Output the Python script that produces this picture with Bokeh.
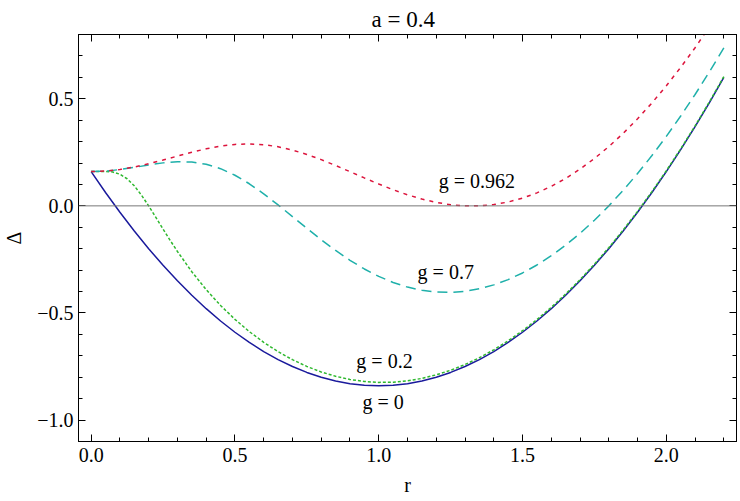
from bokeh.plotting import figure
from bokeh.models import Range1d, LinearAxis, FixedTicker, Span, Label
from bokeh.embed import file_html
from bokeh.resources import INLINE

# ---- data ----
r_grid = [0.0, 0.05, 0.1, 0.15, 0.2, 0.25, 0.3, 0.35, 0.4, 0.45, 0.5, 0.55, 0.6, 0.65,
          0.7, 0.75, 0.8, 0.85, 0.9, 0.95, 1.0, 1.05, 1.1, 1.15, 1.2, 1.25, 1.3, 1.35,
          1.4, 1.45, 1.5, 1.55, 1.6, 1.65, 1.7, 1.75, 1.8, 1.85, 1.9, 1.95, 2.0, 2.05,
          2.1, 2.15, 2.2]

delta_g0 = [0.16, 0.0625, -0.03, -0.1175, -0.2, -0.2775, -0.35, -0.4175, -0.48, -0.5375,
            -0.59, -0.6375, -0.68, -0.7175, -0.75, -0.7775, -0.8, -0.8175, -0.83, -0.8375,
            -0.84, -0.8375, -0.83, -0.8175, -0.8, -0.7775, -0.75, -0.7175, -0.68, -0.6375,
            -0.59, -0.5375, -0.48, -0.4175, -0.35, -0.2775, -0.2, -0.1175, -0.03, 0.0625,
            0.16, 0.2625, 0.37, 0.4825, 0.6]

r_g02 = [0.0, 0.025, 0.05, 0.075, 0.1, 0.125, 0.15, 0.175, 0.2, 0.225, 0.25, 0.275, 0.3,
         0.35, 0.4, 0.45, 0.5, 0.55, 0.6, 0.65, 0.7, 0.75, 0.8, 0.85, 0.9, 0.95, 1.0,
         1.05, 1.1, 1.15, 1.2, 1.25, 1.3, 1.35, 1.4, 1.45, 1.5, 1.55, 1.6, 1.65, 1.7,
         1.75, 1.8, 1.85, 1.9, 1.95, 2.0, 2.05, 2.1, 2.15, 2.2]
delta_g02 = [0.16, 0.1605, 0.161, 0.1581, 0.1478, 0.1266, 0.0935, 0.0502, 0.0, -0.0537,
             -0.1082, -0.1616, -0.2129, -0.3074, -0.3911, -0.4649, -0.5298, -0.587, -0.6371,
             -0.6807, -0.7181, -0.7496, -0.7754, -0.7956, -0.8105, -0.8199, -0.8241, -0.8231,
             -0.8169, -0.8055, -0.7889, -0.7673, -0.7406, -0.7087, -0.6719, -0.6299, -0.5829,
             -0.5309, -0.4738, -0.4116, -0.3445, -0.2723, -0.1951, -0.1128, -0.0256, 0.0667,
             0.164, 0.2663, 0.3736, 0.486, 0.6033]

delta_g07 = [0.16, 0.1625, 0.1694, 0.1796, 0.1909, 0.2007, 0.2062, 0.2047, 0.1942, 0.1736,
             0.1429, 0.1032, 0.0563, 0.0045, -0.05, -0.1048, -0.1581, -0.2083, -0.2541,
             -0.2946, -0.3292, -0.3575, -0.3792, -0.3942, -0.4025, -0.404, -0.3989, -0.3871,
             -0.3689, -0.3442, -0.3132, -0.276, -0.2327, -0.1834, -0.1281, -0.067, 0.0,
             0.0726, 0.151, 0.2349, 0.3244, 0.4195, 0.52, 0.626, 0.7373]

delta_g0962 = [0.16, 0.1625, 0.1698, 0.1814, 0.1964, 0.2139, 0.2323, 0.2503, 0.2663, 0.2789,
               0.2869, 0.2893, 0.2857, 0.276, 0.2606, 0.2402, 0.2158, 0.1885, 0.1596, 0.1304,
               0.102, 0.0754, 0.0518, 0.0317, 0.0161, 0.0053, 0.0, 0.0, 0.0059, 0.018,
               0.0362, 0.0606, 0.0913, 0.1283, 0.1716, 0.2211, 0.2768, 0.3386, 0.4066, 0.4806,
               0.5606, 0.6465, 0.7383, 0.836, 0.9396]

x_major = [0.0, 0.5, 1.0, 1.5, 2.0]
x_labels = ["0.0", "0.5", "1.0", "1.5", "2.0"]
x_minor = [0.1, 0.2, 0.3, 0.4, 0.6, 0.7, 0.8, 0.9, 1.1, 1.2, 1.3, 1.4, 1.6, 1.7, 1.8, 1.9, 2.1, 2.2]
y_major = [-1.0, -0.5, 0.0, 0.5]
y_labels = ["\u22121.0", "\u22120.5", "0.0", "0.5"]
y_minor = [-1.1, -0.9, -0.8, -0.7, -0.6, -0.4, -0.3, -0.2, -0.1, 0.1, 0.2, 0.3, 0.4, 0.6, 0.7, 0.8]

title_text = "a = 0.4"
curve_labels = ["g = 0.962", "g = 0.7", "g = 0.2", "g = 0"]

FONT = "Liberation Serif"

p = figure(width=740, height=501, output_backend="svg", toolbar_location=None,
           x_range=Range1d(-0.044, 2.244), y_range=Range1d(-1.1, 0.8),
           min_border_left=77, min_border_right=4, min_border_top=34, min_border_bottom=60,
           title=title_text)
p.title.align = "left"
p.title.offset = 293
p.title.text_font = FONT
p.title.text_font_size = "23px"
p.title.text_font_style = "normal"
p.title.text_color = "black"
p.title.standoff = 6
p.grid.visible = False
p.outline_line_color = "black"
p.outline_line_width = 1
p.background_fill_color = "white"
p.border_fill_color = "white"

def style_axis(ax, ticks, minor, labels, show_labels):
    ax.ticker = FixedTicker(ticks=ticks, minor_ticks=minor)
    ax.major_tick_in = 7
    ax.major_tick_out = 0
    ax.minor_tick_in = 4
    ax.minor_tick_out = 0
    ax.axis_line_color = "black"
    ax.major_tick_line_color = "black"
    ax.minor_tick_line_color = "black"
    if show_labels:
        ax.major_label_overrides = {t: l for t, l in zip(ticks, labels)}
        ax.major_label_text_font = FONT
        ax.major_label_text_font_size = "20px"
        ax.major_label_text_color = "black"
        ax.axis_label_text_font = FONT
        ax.axis_label_text_font_size = "20px"
        ax.axis_label_text_font_style = "normal"
        ax.axis_label_text_color = "black"
    else:
        ax.major_label_overrides = {t: "" for t in ticks}
        ax.major_label_standoff = 0

xb = p.xaxis[0]
yl = p.yaxis[0]
style_axis(xb, x_major, x_minor, x_labels, True)
style_axis(yl, y_major, y_minor, y_labels, True)
xb.major_label_standoff = 6
xb.axis_label = "r"
xb.axis_label_standoff = 9
yl.major_label_standoff = 5
yl.axis_label = "\u0394"
yl.axis_label_standoff = 9

xt = LinearAxis()
style_axis(xt, x_major, x_minor, x_labels, False)
p.add_layout(xt, "above")
yr = LinearAxis()
style_axis(yr, y_major, y_minor, y_labels, False)
p.add_layout(yr, "right")

p.add_layout(Span(location=0, dimension="width", line_color="#777777", line_width=1))

p.line(r_grid, delta_g0, line_color="#1a1a9c", line_width=1.5)
p.line(r_g02, delta_g02, line_color="#2eb82e", line_width=1.5, line_dash="3 2")
p.line(r_grid, delta_g07, line_color="#1fb0aa", line_width=1.5, line_dash="10 6")
p.line(r_grid, delta_g0962, line_color="#dc143c", line_width=1.5, line_dash="4 5")

label_pos = [(1.341, 0.118), (1.233, -0.31), (1.02, -0.722), (1.015, -0.915)]
for txt, (lx, ly) in zip(curve_labels, label_pos):
    p.add_layout(Label(x=lx, y=ly, text=txt, text_font=FONT, text_font_size="20px",
                       text_align="center", text_baseline="middle", text_color="black"))

open("out.html", "w").write(file_html(p, INLINE))
